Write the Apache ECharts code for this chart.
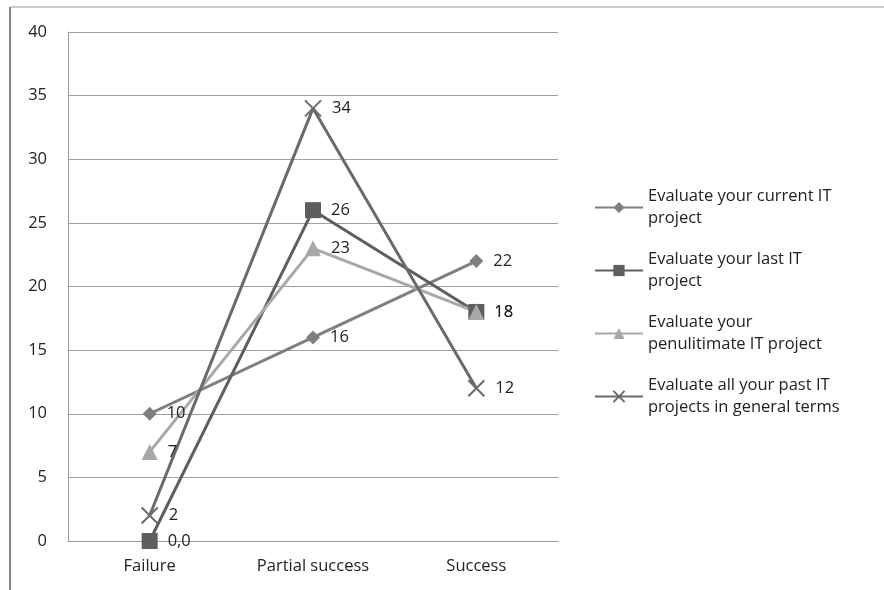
<!DOCTYPE html>
<html>
<head>
<meta charset="utf-8">
<script src="https://cdn.jsdelivr.net/npm/echarts@6/dist/echarts.min.js"></script>
<style>
  html, body { margin: 0; padding: 0; background: #fff; }
  #chart { width: 884px; height: 590px; }
</style>
</head>
<body>
<div id="chart"></div>
<script>
const categories = ['Failure', 'Partial success', 'Success']
const currentProject = [10, 16, 22]
const lastProject = [0, 26, 18]
const penultimateProject = [7, 23, 18]
const allPastProjects = [2, 34, 12]
const seriesNames = [
  'Evaluate your current IT\nproject',
  'Evaluate your last IT\nproject',
  'Evaluate your\npenulitimate IT project',
  'Evaluate all your past IT\nprojects in general terms'
]

const font = 'Open Sans, DejaVu Sans, sans-serif'
const crossPath = 'path://M0,0L10,10M10,0L0,10'

const labelStyle = {
  show: true,
  position: 'right',
  distance: 10,
  fontSize: 16.5,
  fontFamily: font,
  color: '#222'
}

const chart = echarts.init(document.getElementById('chart'))

const makeSeries = (name, data, color, symbol, size, extra) => Object.assign({
  name: name,
  type: 'line',
  data: data,
  symbol: symbol,
  symbolSize: size,
  showAllSymbol: true,
  lineStyle: { width: 3, color: color },
  itemStyle: { color: color },
  label: labelStyle,
  emphasis: { disabled: true }
}, extra || {})

chart.setOption({
  animation: false,
  color: ['#7f7f7f', '#5e5e5e', '#a8a8a8', '#6a6a6a'],
  graphic: [
    { type: 'line', shape: { x1: 10, y1: 7, x2: 10, y2: 590 }, style: { stroke: '#888', lineWidth: 2 } },
    { type: 'line', shape: { x1: 10, y1: 7, x2: 884, y2: 7 }, style: { stroke: '#999', lineWidth: 1 } }
  ],
  grid: { left: 68, right: 326, top: 32, bottom: 49 },
  legend: {
    orient: 'vertical',
    left: 589,
    top: 180,
    itemWidth: 48,
    itemHeight: 14,
    itemGap: 18,
    textStyle: { fontSize: 16.5, fontFamily: font, color: '#222', lineHeight: 22.5 },
    data: seriesNames
  },
  xAxis: {
    type: 'category',
    data: categories,
    boundaryGap: true,
    axisTick: { show: false },
    axisLine: { lineStyle: { color: '#999', width: 1 } },
    axisLabel: { fontSize: 16.5, fontFamily: font, color: '#222', margin: 17 }
  },
  yAxis: {
    type: 'value',
    min: 0,
    max: 40,
    interval: 5,
    axisLine: { show: true, lineStyle: { color: '#999' } },
    axisTick: { show: false },
    splitLine: { lineStyle: { color: '#a0a0a0', width: 1 } },
    axisLabel: { fontSize: 16.5, fontFamily: font, color: '#222', margin: 21 }
  },
  series: [
    makeSeries(seriesNames[0], currentProject, '#7f7f7f', 'diamond', 14),
    makeSeries(seriesNames[1], lastProject, '#5e5e5e', 'rect', 16, {
      label: Object.assign({}, labelStyle, {
        formatter: p => p.value === 0 ? '0,0' : String(p.value)
      })
    }),
    makeSeries(seriesNames[2], penultimateProject, '#a8a8a8', 'triangle', 16),
    makeSeries(seriesNames[3], allPastProjects, '#6a6a6a', crossPath, 16, {
      itemStyle: { color: 'rgba(0,0,0,0)', borderColor: '#6a6a6a', borderWidth: 2 }
    })
  ]
})

window.addEventListener('resize', () => chart.resize())
</script>
</body>
</html>
